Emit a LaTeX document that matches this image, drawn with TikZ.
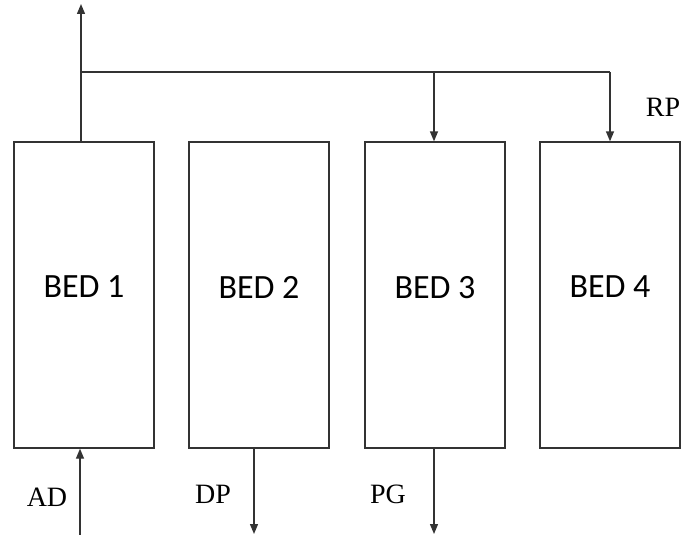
\documentclass[tikz,border=0pt]{standalone}
\usepackage{fontspec}
\setmainfont{Liberation Serif}
\newfontfamily\bedfont{Carlito}
\usetikzlibrary{arrows.meta}
\begin{document}
\begin{tikzpicture}[x=1pt,y=-1pt,
  bedbox/.style={draw=black!80, line width=1.3pt, minimum width=140pt, minimum height=306pt, inner sep=0pt, text depth=16pt, font=\bedfont\fontsize{34}{40}\selectfont},
  flow/.style={draw=black!80, line width=1.3pt, -{Triangle[length=10pt,width=8pt]}},
  pipe/.style={draw=black!80, line width=1.3pt},
  lab/.style={font=\fontsize{28}{32}\selectfont, inner sep=0pt}]
\useasboundingbox (0,0) rectangle (683,535);
\node[bedbox] (b1) at (84,295) {BED 1};
\node[bedbox] (b2) at (259,295) {BED 2};
\node[bedbox] (b3) at (435,295) {BED 3};
\node[bedbox] (b4) at (610,295) {BED 4};
\coordinate (top) at (81,4);
\coordinate (j1) at (81,72);
\coordinate (j3) at (434,72);
\coordinate (j4) at (610,72);
\coordinate (adin) at (80,535);
\coordinate (dpout) at (254,534);
\coordinate (pgout) at (434,534);
\draw[flow] (b1.north -| top) -- (top);
\draw[pipe] (j1) -- (j4);
\draw[flow] (j3) -- (j3 |- b3.north);
\draw[flow] (j4) -- (j4 |- b4.north);
\draw[flow] (adin) -- (adin |- b1.south);
\draw[flow] (dpout |- b2.south) -- (dpout);
\draw[flow] (pgout |- b3.south) -- (pgout);
\node[lab] (rp) at (663,107) {RP};
\node[lab] (ad) at (47,497) {AD};
\node[lab] (dp) at (213,494) {DP};
\node[lab] (pg) at (388,494) {PG};
\end{tikzpicture}
\end{document}
